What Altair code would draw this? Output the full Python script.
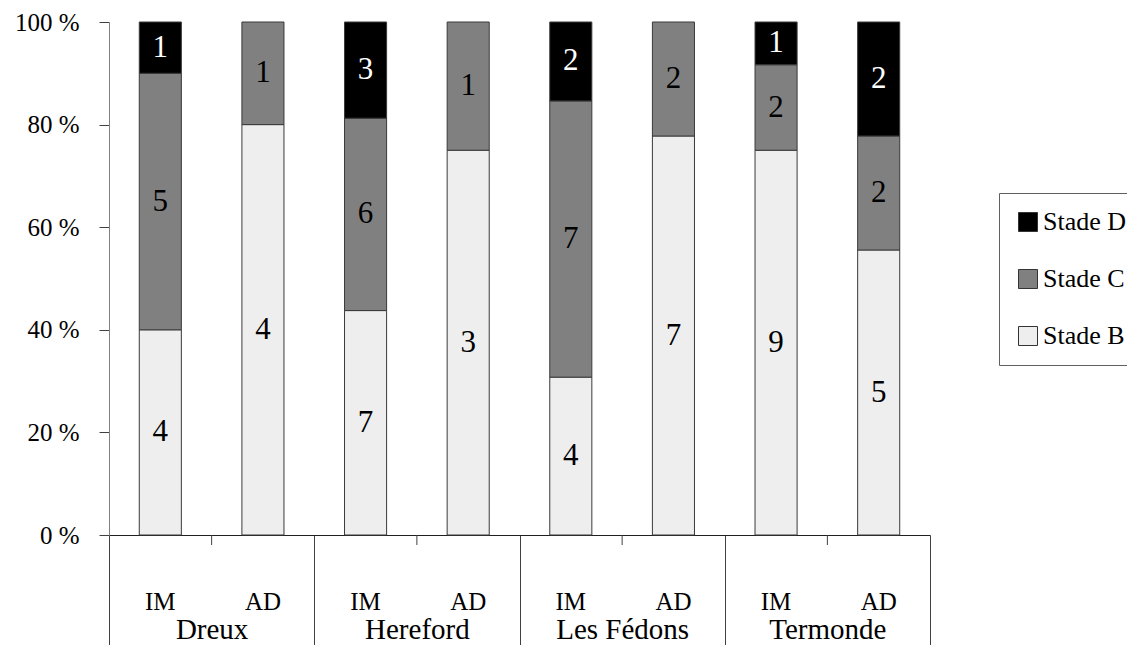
import altair as alt
import pandas as pd

sites = ["Dreux", "Dreux", "Hereford", "Hereford", "Les Fédons", "Les Fédons", "Termonde", "Termonde"]
periods = ["IM", "AD", "IM", "AD", "IM", "AD", "IM", "AD"]
stade_B = [4, 4, 7, 3, 4, 7, 9, 5]
stade_C = [5, 1, 6, 1, 7, 2, 2, 2]
stade_D = [1, 0, 3, 0, 2, 0, 1, 2]

site_order = ["Dreux", "Hereford", "Les Fédons", "Termonde"]
period_order = ["IM", "AD"]
stades = ["Stade D", "Stade C", "Stade B"]
stade_colors = ["#000000", "#808080", "#eeeeee"]

rows = []
for i in range(len(sites)):
    for name, vals, rank, tcol in [("Stade B", stade_B, 0, "#000000"),
                                   ("Stade C", stade_C, 1, "#000000"),
                                   ("Stade D", stade_D, 2, "#ffffff")]:
        if vals[i] > 0:
            rows.append({"site": sites[i], "period": periods[i], "stade": name,
                         "n": vals[i], "rank": rank, "tcol": tcol})
df = pd.DataFrame(rows)

FONT = "Liberation Serif"
W, H = 821, 513

base = alt.Chart(df).transform_joinaggregate(
    total="sum(n)", groupby=["site", "period"]
).transform_calculate(
    pct="100 * datum.n / datum.total"
).transform_stack(
    stack="pct", groupby=["site", "period"], as_=["y0", "y1"],
    sort=[alt.SortField("rank", order="ascending")]
).transform_calculate(
    ymid="(datum.y0 + datum.y1) / 2"
)

xenc = alt.X("site:N", sort=site_order,
             scale=alt.Scale(paddingInner=0, paddingOuter=0),
             axis=alt.Axis(title=None, tickBand="extent", tickSize=118,
                           tickColor="#404040", domainColor="#202020",
                           labelFont=FONT, labelFontSize=29, labelColor="#000000",
                           labelPadding=-15, labelBaseline="alphabetic", labelAngle=0))
xoff = alt.XOffset("period:N", sort=period_order,
                   scale=alt.Scale(paddingInner=0.59, paddingOuter=0.295))

bars = base.mark_bar(stroke="#3a3a3a", strokeWidth=1).encode(
    x=xenc,
    xOffset=xoff,
    y=alt.Y("y0:Q", scale=alt.Scale(domain=[0, 100], nice=False),
            axis=alt.Axis(title=None, values=[0, 20, 40, 60, 80, 100],
                          labelExpr="datum.value + ' %'", grid=False,
                          tickSize=10, tickColor="#404040", domainColor="#808080",
                          labelFont=FONT, labelFontSize=25, labelColor="#000000",
                          labelPadding=20)),
    y2="y1:Q",
    color=alt.Color("stade:N", scale=alt.Scale(domain=stades, range=stade_colors),
                    legend=alt.Legend(title=None, orient="none", legendX=890, legendY=171,
                                      symbolType="square", symbolSize=361,
                                      symbolStrokeColor="#333333", symbolStrokeWidth=1,
                                      symbolOpacity=1,
                                      labelFont=FONT, labelFontSize=26, labelColor="#000000",
                                      rowPadding=31, padding=16, strokeColor="#606060",
                                      fillColor="#ffffff", labelOffset=2)),
    order=alt.Order("rank:Q"),
)

labels = base.mark_text(font=FONT, fontSize=31, baseline="middle").encode(
    x=alt.X("site:N", sort=site_order),
    xOffset=xoff,
    y=alt.Y("ymid:Q"),
    text="n:Q",
    color=alt.Color("tcol:N", scale=None),
)

ptab = pd.DataFrame({"site": sites, "period": periods})
sub = alt.Chart(ptab).mark_text(font=FONT, fontSize=25, baseline="middle", color="#000000").encode(
    x=alt.X("site:N", sort=site_order),
    xOffset=xoff,
    y=alt.value(H + 67),
    text="period:N",
)

stab = pd.DataFrame({"site": site_order})
midticks = alt.Chart(stab).mark_rule(color="#404040", strokeWidth=1).encode(
    x=alt.X("site:N", sort=site_order),
    y=alt.value(H),
    y2=alt.value(H + 10),
)

chart = alt.layer(bars, labels, sub, midticks).properties(
    width=W, height=H,
    autosize=alt.AutoSizeParams(type="none"),
    padding={"left": 101, "top": 14, "right": 197, "bottom": 110},
).configure_view(stroke=None).configure_axis(labelFont=FONT).configure_text(
    font=FONT).configure_legend(labelFont=FONT)

chart.save("out.html", embed_options={"renderer": "svg", "actions": False})
